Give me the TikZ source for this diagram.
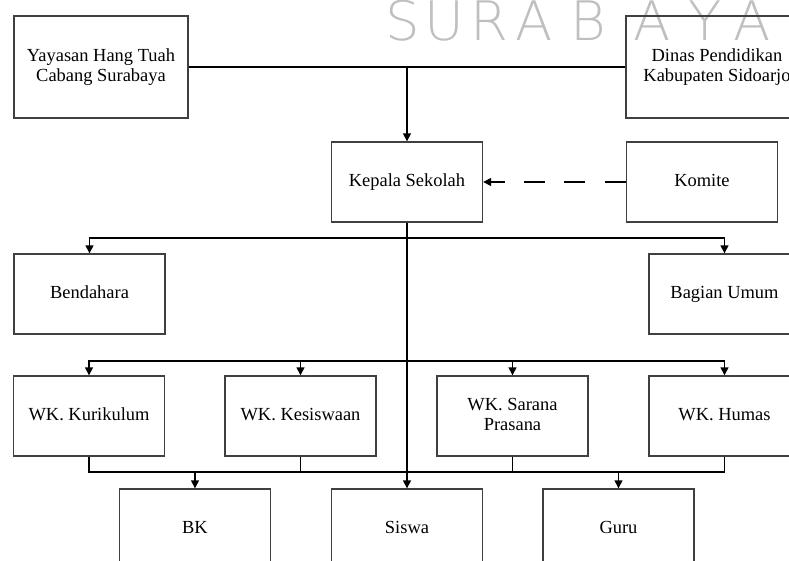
\documentclass[tikz,border=0pt]{standalone}
\usepackage{fontspec}
\setmainfont{Liberation Serif}
\newfontfamily\wmfont{DejaVu Sans ExtraLight}
\usetikzlibrary{arrows.meta}
\tikzset{
    px/.style={x=0.02cm,y=-0.02cm},
    box/.style={draw=black!75, line width=0.8pt, minimum width=3.02cm, minimum height=1.6cm,
        align=center, inner sep=2pt, text depth=0.22em, font=\fontsize{10.5}{11.5}\selectfont},
    topbox/.style={box, text depth=, minimum width=3.48cm, minimum height=2.04cm},
    link/.style={line width=0.8pt},
    arrow/.style={link, -{Triangle[length=4.5pt,width=4.5pt]}},
    watermark/.style={text=black!25, font=\wmfont\fontsize{31}{31}\selectfont, anchor=base, inner sep=0pt}
}

\begin{document}
\begin{tikzpicture}[px]
    \useasboundingbox (0,0) rectangle (789,561);
    \clip (0,0) rectangle (789,561);
    \foreach \ch/\x in {S/403,U/444,R/489,A/534,B/588,A/652,Y/705,A/752}
        \node[watermark] (wm\x) at (\x,40) {\ch};

    \node[topbox] (yayasan) at (101,67) {Yayasan Hang Tuah\\Cabang Surabaya};
    \node[topbox, minimum width=3.64cm] (dinas) at (717,67) {Dinas Pendidikan\\Kabupaten Sidoarjo};
    \node[box] (kepsek) at (407,182) {Kepala Sekolah};
    \node[box] (komite) at (702,182) {Komite};
    \node[box] (bendahara) at (89.5,294) {Bendahara};
    \node[box] (umum) at (724.5,294) {Bagian Umum};
    \node[box] (kur) at (89,416) {WK. Kurikulum};
    \node[box] (kes) at (300.5,416) {WK. Kesiswaan};
    \node[box] (sar) at (512.5,416) {WK. Sarana\\Prasana};
    \node[box] (hum) at (724.5,416) {WK. Humas};
    \node[box] (bk) at (195,529) {BK};
    \node[box] (siswa) at (407,529) {Siswa};
    \node[box] (guru) at (618.5,529) {Guru};

    \coordinate (bus1) at (0,238);
    \coordinate (bus2) at (0,361);
    \coordinate (bus3) at (0,472);

    \draw[link] (yayasan.east) -- (dinas.west);
    \draw[arrow] (kepsek.north |- yayasan.east) -- (kepsek.north);
    \draw[arrow, dash pattern=on 12pt off 11pt] (komite.west) -- (kepsek.east);
    \draw[arrow] (kepsek.south) -- (siswa.north);
    \draw[arrow] (kepsek.south |- bus1) -| (bendahara.north);
    \draw[arrow] (kepsek.south |- bus1) -| (umum.north);
    \foreach \n in {kur,kes,sar,hum}
        \draw[arrow] (kepsek.south |- bus2) -| (\n.north);
    \draw[link] (kur.south) |- (hum.south |- bus3) -- (hum.south);
    \foreach \n in {kes,sar}
        \draw[link] (\n.south) -- (\n.south |- bus3);
    \foreach \n in {bk,guru}
        \draw[arrow] (\n.north |- bus3) -- (\n.north);
\end{tikzpicture}
\end{document}
